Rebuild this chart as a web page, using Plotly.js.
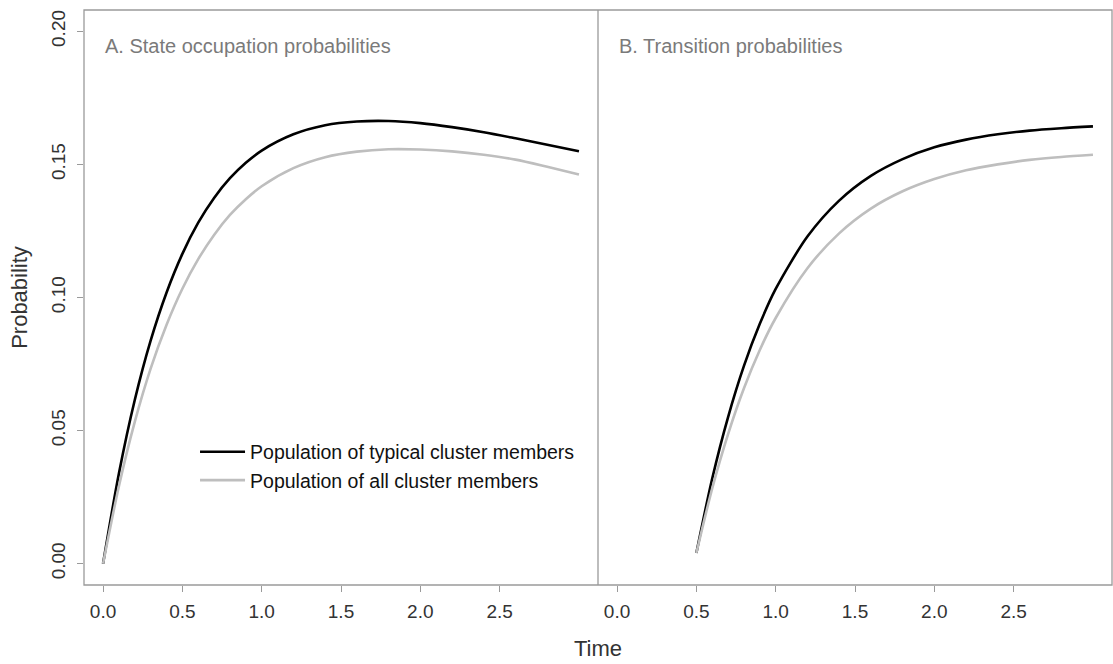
<!DOCTYPE html>
<html>
<head>
<meta charset="utf-8">
<script src="https://cdn.plot.ly/plotly-3.0.1.min.js"></script>
<style>html,body{margin:0;padding:0;background:#fff;}#chart{width:1113px;height:664px;}</style>
</head>
<body>
<div id="chart"></div>
<script>
// Panel A: state occupation probabilities
const timeA = [0, 0.1, 0.2, 0.3, 0.4, 0.5, 0.6, 0.7, 0.8, 0.9, 1.0, 1.2, 1.4, 1.6, 1.8, 2.0, 2.2, 2.4, 2.6, 2.8, 3.0];
const typicalA = [0, 0.0339, 0.0615, 0.0838, 0.1018, 0.1164, 0.1281, 0.1374, 0.1448, 0.1506, 0.1552, 0.1613, 0.1647, 0.1661, 0.1663, 0.1655, 0.1640, 0.1621, 0.1598, 0.1574, 0.1549];
const allA = [0, 0.0291, 0.0533, 0.0733, 0.0897, 0.1033, 0.1144, 0.1235, 0.1310, 0.1369, 0.1418, 0.1486, 0.1527, 0.1548, 0.1557, 0.1556, 0.1549, 0.1536, 0.1518, 0.1491, 0.1462];
// Panel B: transition probabilities (from s = 0.5)
const timeB = [0.5, 0.6, 0.7, 0.8, 0.9, 1.0, 1.2, 1.4, 1.6, 1.8, 2.0, 2.2, 2.4, 2.6, 2.8, 3.0];
const typicalB = [0.004, 0.032, 0.0551, 0.0743, 0.0901, 0.1032, 0.1229, 0.1364, 0.1457, 0.1520, 0.1564, 0.1593, 0.1613, 0.1627, 0.1636, 0.1643];
const allB = [0.004, 0.0283, 0.0487, 0.0659, 0.0803, 0.0923, 0.1110, 0.1241, 0.1334, 0.1399, 0.1445, 0.1478, 0.1500, 0.1517, 0.1528, 0.1536];

const seriesNames = ["Population of typical cluster members", "Population of all cluster members"];
const panelTitles = ["A. State occupation probabilities", "B. Transition probabilities"];
const xTicks = [0, 0.5, 1.0, 1.5, 2.0, 2.5];
const xTickLabels = ["0.0", "0.5", "1.0", "1.5", "2.0", "2.5"];
const yTicks = [0, 0.05, 0.10, 0.15, 0.20];
const yTickLabels = ["0.00", "0.05", "0.10", "0.15", "0.20"];

const BLACK = "#000000", GRAY = "#bebebe", BOX = "#9a9a9a";
const FONT = "Liberation Sans, Arial, sans-serif";

const traces = [
  {x: timeA, y: typicalA, xaxis: "x", yaxis: "y", mode: "lines", line: {color: BLACK, width: 2.6, shape: "spline", smoothing: 0.8}, name: seriesNames[0]},
  {x: timeA, y: allA, xaxis: "x", yaxis: "y", mode: "lines", line: {color: GRAY, width: 2.6, shape: "spline", smoothing: 0.8}, name: seriesNames[1]},
  {x: timeB, y: typicalB, xaxis: "x2", yaxis: "y", mode: "lines", line: {color: BLACK, width: 2.6, shape: "spline", smoothing: 0.8}, name: seriesNames[0], showlegend: false},
  {x: timeB, y: allB, xaxis: "x2", yaxis: "y", mode: "lines", line: {color: GRAY, width: 2.6, shape: "spline", smoothing: 0.8}, name: seriesNames[1], showlegend: false}
];

const xCommon = {
  range: [-0.12, 3.12], tickvals: xTicks, ticktext: xTickLabels,
  ticks: "outside", ticklen: 6, tickcolor: BOX, tickwidth: 1,
  showgrid: false, zeroline: false, showline: false,
  tickfont: {family: FONT, size: 19, color: "#333333"}, ticklabelstandoff: 3
};

const layout = {
  width: 1113, height: 664,
  margin: {l: 84, r: 1, t: 10, b: 79},
  paper_bgcolor: "#ffffff", plot_bgcolor: "#ffffff",
  font: {family: FONT, size: 19, color: "#333333"},
  showlegend: true,
  legend: {x: 0.108, y: 0.265, xanchor: "left", yanchor: "top", bgcolor: "rgba(0,0,0,0)",
           font: {family: FONT, size: 19.5, color: "#111111"}, tracegroupgap: 0, itemwidth: 45},
  xaxis: Object.assign({}, xCommon, {domain: [0, 0.5], anchor: "y"}),
  xaxis2: Object.assign({}, xCommon, {domain: [0.5, 1], anchor: "y"}),
  yaxis: {
    range: [-0.008, 0.208], tickvals: yTicks, ticktext: yTickLabels,
    ticks: "outside", ticklen: 6, tickcolor: BOX, tickwidth: 1, tickangle: -90,
    showgrid: false, zeroline: false, showline: false,
    tickfont: {family: FONT, size: 19, color: "#333333"}, ticklabelstandoff: 4,
    title: {text: "Probability", font: {family: FONT, size: 22, color: "#333333"}, standoff: 14}
  },
  shapes: [
    {type: "rect", xref: "paper", yref: "paper", x0: 0, x1: 1, y0: 0, y1: 1, line: {color: BOX, width: 1.3}},
    {type: "line", xref: "paper", yref: "paper", x0: 0.5, x1: 0.5, y0: 0, y1: 1, line: {color: BOX, width: 1.3}}
  ],
  annotations: [
    {text: panelTitles[0], xref: "paper", yref: "paper", x: 0.018, y: 0.937, xanchor: "left", yanchor: "middle", showarrow: false, font: {family: FONT, size: 20, color: "#7a7a7a"}},
    {text: panelTitles[1], xref: "paper", yref: "paper", x: 0.518, y: 0.937, xanchor: "left", yanchor: "middle", showarrow: false, font: {family: FONT, size: 20, color: "#7a7a7a"}},
    {text: "Time", xref: "paper", yref: "paper", x: 0.5, y: -0.1096, xanchor: "center", yanchor: "middle", showarrow: false, font: {family: FONT, size: 22, color: "#333333"}}
  ]
};

Plotly.newPlot("chart", traces, layout, {displayModeBar: false, staticPlot: true});
</script>
</body>
</html>
